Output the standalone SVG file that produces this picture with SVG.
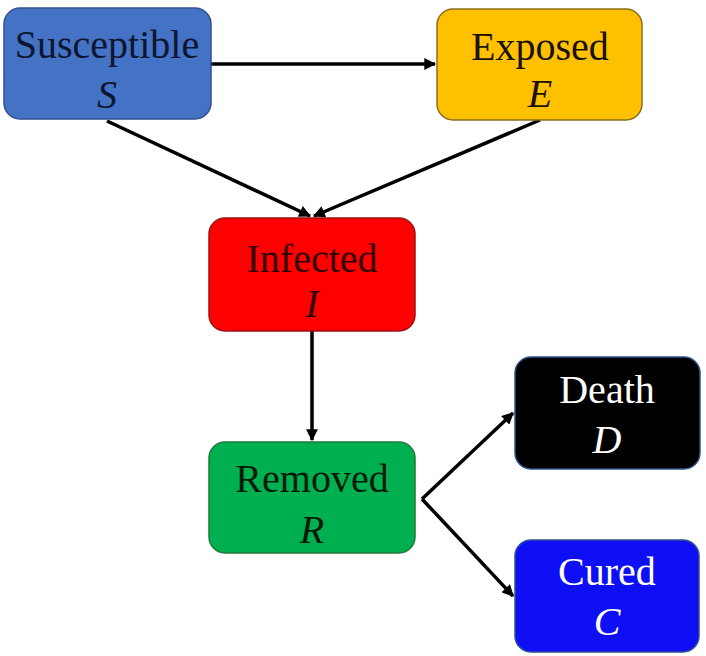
<svg xmlns="http://www.w3.org/2000/svg" width="706" height="656" viewBox="0 0 706 656">
<defs>
<marker id="ah" viewBox="0 0 10 10" refX="9" refY="5" markerWidth="3.6" markerHeight="3.4" orient="auto" markerUnits="strokeWidth">
<path d="M0,0 L10,5 L0,10 z" fill="#000"/>
</marker>
<style>
.box{stroke-width:1.5}
.t{font-family:"Liberation Serif","Times New Roman",serif;font-size:40px;text-anchor:middle}
.v{font-style:italic}
.c{fill:none;stroke:#000;stroke-width:3.5;marker-end:url(#ah)}
</style>
</defs>
<rect width="706" height="656" fill="#fff"/>
<g id="connectors">
<line class="c" x1="211" y1="64" x2="435" y2="64"/>
<line class="c" x1="107" y1="121" x2="310" y2="216"/>
<line class="c" x1="540" y1="120" x2="314" y2="216"/>
<line class="c" x1="312" y1="331" x2="312" y2="440"/>
<line class="c" x1="422" y1="499" x2="513" y2="413"/>
<line class="c" x1="422" y1="499" x2="513" y2="596"/>
</g>
<g id="S">
<rect class="box" x="4" y="8" width="207" height="111" rx="16" fill="#4472C4" stroke="#2F528F"/>
<text class="t" x="107" y="58" fill="#0d1530">Susceptible</text>
<text class="t v" x="107" y="108" fill="#0d1530">S</text>
</g>
<g id="E">
<rect class="box" x="437" y="9" width="205" height="111" rx="16" fill="#FFC000" stroke="#8a6d1f"/>
<text class="t" x="540" y="60" fill="#1a1200">Exposed</text>
<text class="t v" x="540" y="107" fill="#1a1200">E</text>
</g>
<g id="I">
<rect class="box" x="209" y="218" width="206" height="113" rx="16" fill="#FF0000" stroke="#a01010"/>
<text class="t" x="312" y="272" fill="#300000">Infected</text>
<text class="t v" x="312" y="317" fill="#300000">I</text>
</g>
<g id="R">
<rect class="box" x="209" y="442" width="206" height="111" rx="16" fill="#00B050" stroke="#1f7a3a"/>
<text class="t" x="312" y="492" fill="#001a08">Removed</text>
<text class="t v" x="312" y="543" fill="#001a08">R</text>
</g>
<g id="D">
<rect class="box" x="515" y="357" width="185" height="112" rx="16" fill="#000" stroke="#2F528F"/>
<text class="t" x="607" y="403" fill="#fff">Death</text>
<text class="t v" x="607" y="453" fill="#fff">D</text>
</g>
<g id="C">
<rect class="box" x="515" y="540" width="184" height="112" rx="16" fill="#0F0FF5" stroke="#2F528F"/>
<text class="t" x="607" y="585" fill="#fff">Cured</text>
<text class="t v" x="607" y="635" fill="#fff">C</text>
</g>
</svg>
